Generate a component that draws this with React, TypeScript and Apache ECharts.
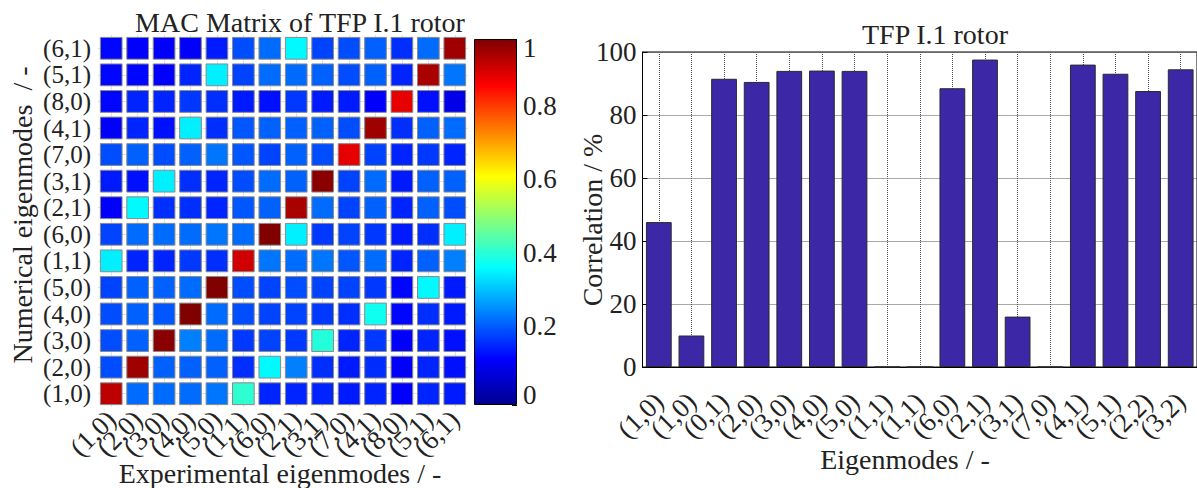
import React, { useEffect, useRef } from 'react';
import * as echarts from 'echarts';

// Mode labels (same order on both heatmap axes)
const MODES = ['(1,0)', '(2,0)', '(3,0)', '(4,0)', '(5,0)', '(1,1)', '(6,0)', '(2,1)', '(3,1)', '(7,0)', '(4,1)', '(8,0)', '(5,1)', '(6,1)'];

// MAC values: row i = numerical mode MODES[i] (bottom to top), column j = experimental mode MODES[j]
const MAC_10 = [0.94, 0.23, 0.23, 0.23, 0.24, 0.42, 0.16, 0.16, 0.16, 0.15, 0.16, 0.12, 0.16, 0.15];
const MAC_20 = [0.2, 0.97, 0.22, 0.22, 0.22, 0.17, 0.37, 0.25, 0.17, 0.15, 0.17, 0.12, 0.16, 0.14];
const MAC_30 = [0.2, 0.22, 0.99, 0.25, 0.23, 0.18, 0.19, 0.18, 0.41, 0.16, 0.18, 0.12, 0.16, 0.14];
const MAC_40 = [0.2, 0.22, 0.21, 1.0, 0.23, 0.2, 0.19, 0.19, 0.18, 0.17, 0.39, 0.13, 0.17, 0.15];
const MAC_50 = [0.19, 0.22, 0.22, 0.23, 1.0, 0.2, 0.19, 0.2, 0.19, 0.19, 0.18, 0.13, 0.37, 0.15];
const MAC_11 = [0.36, 0.16, 0.16, 0.18, 0.17, 0.92, 0.24, 0.23, 0.24, 0.21, 0.23, 0.16, 0.22, 0.25];
const MAC_60 = [0.19, 0.23, 0.23, 0.23, 0.24, 0.23, 1.0, 0.36, 0.18, 0.19, 0.18, 0.15, 0.17, 0.36];
const MAC_21 = [0.12, 0.37, 0.17, 0.17, 0.16, 0.21, 0.22, 0.96, 0.23, 0.19, 0.22, 0.16, 0.22, 0.2];
const MAC_31 = [0.15, 0.14, 0.36, 0.17, 0.16, 0.2, 0.23, 0.22, 0.99, 0.19, 0.23, 0.15, 0.22, 0.22];
const MAC_70 = [0.2, 0.22, 0.2, 0.22, 0.24, 0.21, 0.19, 0.22, 0.2, 0.9, 0.19, 0.16, 0.18, 0.16];
const MAC_41 = [0.12, 0.16, 0.14, 0.36, 0.17, 0.21, 0.22, 0.22, 0.22, 0.2, 0.97, 0.17, 0.22, 0.23];
const MAC_80 = [0.13, 0.16, 0.16, 0.18, 0.17, 0.15, 0.14, 0.18, 0.15, 0.15, 0.12, 0.9, 0.14, 0.1];
const MAC_51 = [0.13, 0.13, 0.12, 0.16, 0.36, 0.19, 0.23, 0.23, 0.22, 0.2, 0.22, 0.16, 0.96, 0.24];
const MAC_61 = [0.13, 0.12, 0.12, 0.12, 0.15, 0.2, 0.23, 0.37, 0.19, 0.2, 0.22, 0.17, 0.23, 0.97];
const MAC = [MAC_10, MAC_20, MAC_30, MAC_40, MAC_50, MAC_11, MAC_60, MAC_21, MAC_31, MAC_70, MAC_41, MAC_80, MAC_51, MAC_61];

// Colorbar tick labels
const COLORBAR_TICKS = ['0', '0.2', '0.4', '0.6', '0.8', '1'];

// Bar chart
const BAR_MODES = ['(1,0)', '(1,0)', '(0,1)', '(2,0)', '(3,0)', '(4,0)', '(5,0)', '(1,1)', '(1,1)', '(6,0)', '(2,1)', '(3,1)', '(7,0)', '(4,1)', '(5,1)', '(2,2)', '(3,2)'];
const CORRELATION = [46, 10, 91.5, 90.5, 94, 94.1, 94, 0, 0, 88.5, 97.6, 16, 0, 96, 93.1, 87.6, 94.5];

const JET = ['#000090', '#0000ff', '#0080ff', '#00ffff', '#80ff80', '#ffff00', '#ff8000', '#ff0000', '#800000'];

const FONT = "'Liberation Serif', 'Times New Roman', serif";
const TXT = '#222';

export default function App() {
  const ref = useRef<HTMLDivElement>(null);
  useEffect(() => {
    if (!ref.current) return;
    const chart = echarts.init(ref.current, undefined, { renderer: 'svg' });
    const heatData: number[][] = [];
    MAC.forEach((row, yi) => row.forEach((v, xi) => heatData.push([xi, yi, v])));
    const stops = JET.map((c, i) => ({ offset: i / (JET.length - 1), color: c }));
    const labelStyle = { fontFamily: FONT, fontSize: 27, color: TXT };
    const nameStyle = { fontFamily: FONT, fontSize: 28, fill: TXT, align: 'center', verticalAlign: 'middle' };
    const option: any = {
      animation: false,
      backgroundColor: '#fff',
      grid: [
        { left: 98, top: 35, width: 370, height: 372 },
        { left: 474, top: 39, width: 43, height: 366 },
        { left: 642.5, top: 52, width: 559, height: 315, show: true, borderColor: '#000', borderWidth: 1 },
      ],
      xAxis: [
        {
          gridIndex: 0, type: 'category', data: MODES,
          axisLine: { show: false }, axisTick: { show: false },
          splitLine: { show: true, alignWithLabel: true, lineStyle: { color: '#e2e2e2' } },
          axisLabel: { ...labelStyle, rotate: 45, margin: 8, interval: 0, lineHeight: 22 },
        },
        { gridIndex: 1, type: 'category', data: ['c'], show: false },
        {
          gridIndex: 2, type: 'category', data: BAR_MODES,
          axisLine: { show: true, lineStyle: { color: '#000' } },
          axisTick: { show: false },
          splitLine: { show: true, alignWithLabel: true, lineStyle: { color: '#555', type: 'dotted' } },
          axisLabel: { ...labelStyle, rotate: 45, margin: 30, interval: 0, lineHeight: 22 },
        },
      ],
      yAxis: [
        {
          gridIndex: 0, type: 'category', data: MODES,
          axisLine: { show: false }, axisTick: { show: false },
          splitLine: { show: true, alignWithLabel: true, lineStyle: { color: '#e2e2e2' } },
          axisLabel: { fontFamily: FONT, fontSize: 25, color: TXT, margin: 7, interval: 0, lineHeight: 24 },
        },
        {
          gridIndex: 1, type: 'value', min: 0, max: 1, interval: 0.2, position: 'right',
          axisLine: { show: false },
          axisTick: { show: true, inside: true, length: 5, lineStyle: { color: '#000' } },
          splitLine: { show: false },
          axisLabel: {
            ...labelStyle, margin: 6,
            formatter: (v: number) => {
              const idx = Math.round(v / 0.2);
              const t = COLORBAR_TICKS[idx];
              if (idx === 0) return '{b|' + t + '}';
              if (idx === COLORBAR_TICKS.length - 1) return '{t|' + t + '}';
              return '{m|' + t + '}';
            },
            rich: {
              b: { fontFamily: FONT, fontSize: 27, color: TXT, padding: [0, 0, 20, 0] },
              t: { fontFamily: FONT, fontSize: 27, color: TXT, padding: [18, 0, 0, 0] },
              m: { fontFamily: FONT, fontSize: 27, color: TXT, padding: [0, 0, 12, 0] },
            },
          },
        },
        {
          gridIndex: 2, type: 'value', min: 0, max: 100, interval: 20,
          axisLine: { show: true, lineStyle: { color: '#000' } },
          axisTick: { show: true, inside: true, length: 5, lineStyle: { color: '#000' } },
          splitLine: { show: true, lineStyle: { color: '#555', type: 'dotted' } },
          axisLabel: { ...labelStyle, margin: 6 },
        },
      ],
      visualMap: {
        type: 'continuous', show: false, min: 0, max: 1, dimension: 2, seriesIndex: 0,
        inRange: { color: JET },
      },
      series: [
        {
          type: 'custom', xAxisIndex: 0, yAxisIndex: 0, data: heatData,
          encode: { x: 0, y: 1 },
          renderItem: (params: any, api: any) => {
            const c = api.coord([api.value(0), api.value(1)]);
            const s = api.size([1, 1]);
            const w = s[0] * 0.82;
            const h = s[1] * 0.82;
            return {
              type: 'rect',
              shape: { x: c[0] - w / 2, y: c[1] - h / 2, width: w, height: h },
              style: { fill: api.visual('color'), stroke: '#8a8a8a', lineWidth: 1 },
            };
          },
        },
        {
          type: 'bar', xAxisIndex: 1, yAxisIndex: 1, data: [1], barWidth: '100%',
          itemStyle: {
            color: new echarts.graphic.LinearGradient(0, 1, 0, 0, stops),
            borderColor: '#000', borderWidth: 1,
          },
        },
        {
          type: 'bar', xAxisIndex: 2, yAxisIndex: 2, data: CORRELATION, barCategoryGap: '21%',
          itemStyle: { color: '#3c28a7', borderColor: '#2a2a2a', borderWidth: 1 },
        },
      ],
      graphic: [
        { type: 'text', x: 300, y: 22, style: { text: 'MAC Matrix of TFP I.1 rotor', ...nameStyle } },
        { type: 'text', x: 22, y: 215, rotation: Math.PI / 2, style: { text: 'Numerical eigenmodes  / -', ...nameStyle } },
        { type: 'text', x: 280, y: 473, style: { text: 'Experimental eigenmodes / -', ...nameStyle } },
        { type: 'text', x: 935, y: 34, style: { text: 'TFP I.1 rotor', ...nameStyle } },
        { type: 'text', x: 592, y: 220, rotation: Math.PI / 2, style: { text: 'Correlation / %', ...nameStyle } },
        { type: 'text', x: 905, y: 459, style: { text: 'Eigenmodes / -', ...nameStyle } },
      ],
    };
    chart.setOption(option);
    return () => chart.dispose();
  }, []);
  return <div ref={ref} style={{ position: 'absolute', left: 0, top: 0, width: 1197, height: 488, background: '#fff' }} />;
}
